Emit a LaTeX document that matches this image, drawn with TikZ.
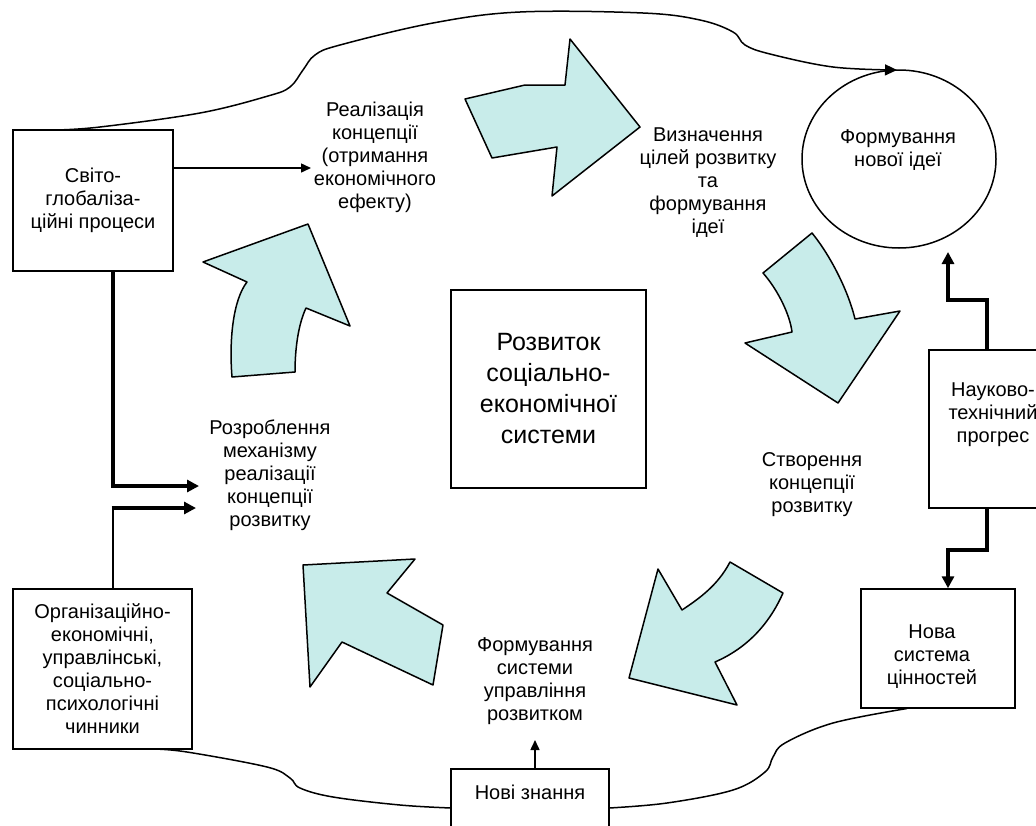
\documentclass[tikz,border=0pt]{standalone}
\usepackage{fontspec}
\setmainfont{Liberation Sans}
\usetikzlibrary{shapes.geometric,arrows.meta}
\definecolor{arrowfill}{RGB}{200,236,234}
\begin{document}
\begin{tikzpicture}[x=1pt,y=-1pt,
  lbl/.style={align=center,font=\fontsize{20}{23}\selectfont,inner sep=0pt},
  box/.style={draw,line width=1.5pt,rectangle,inner sep=0pt},
  conn/.style={line width=1.5pt},
  thickconn/.style={line width=3.5pt},
  tipthin/.style={-{Triangle[length=10pt,width=9pt]}},
  tipthick/.style={-{Triangle[length=12pt,width=12pt]}},
  blockarrow/.style={fill=arrowfill,draw=black,line width=1.5pt,line join=round},
  cloudline/.style={line width=1.5pt}]
\useasboundingbox (0,0) rectangle (1036,825);
\clip (0,0) rectangle (1036,825);

% block arrows
\draw[blockarrow] (465,99) -- (525,85) -- (565,85) -- (570,39) -- (640,127) -- (552,196) -- (557,147) -- (492,158) -- cycle;
\draw[blockarrow] (763,273) -- (812,233) .. controls (830,255) and (848,290) .. (855,319) -- (900,311) -- (838,403) -- (745,343) -- (792,332) .. controls (790,315) and (778,290) .. (763,273) -- cycle;
\draw[blockarrow] (730,562) -- (783,593) .. controls (772,618) and (752,646) .. (715,662) -- (737,705) -- (629,678) -- (658,569) -- (682,610) .. controls (700,598) and (718,585) .. (730,562) -- cycle;
\draw[blockarrow] (303,565) -- (415,559) -- (387,593) -- (443,625) -- (433,685) -- (342,642) -- (310,687) -- cycle;
\draw[blockarrow] (203,262) -- (308,224) -- (350,326) -- (306,308) .. controls (298,325) and (295,350) .. (295,372) -- (232,377) .. controls (229,340) and (233,300) .. (247,282) -- cycle;

% nodes
\node[box,lbl,minimum width=160pt,minimum height=141pt] (svit) at (93,200.5) {Світо-\\глобаліза-\\ційні процеси};
\node[box,lbl,minimum width=179pt,minimum height=160pt] (org) at (102.5,669) {Організаційно-\\економічні,\\управлінські,\\соціально-\\психологічні\\чинники};
\node[box,align=center,font=\fontsize{25}{31}\selectfont,minimum width=195pt,minimum height=198pt] (centre) at (548.5,389) {Розвиток\\соціально-\\економічної\\системи};
\node[draw,ellipse,line width=1.5pt,minimum width=194pt,minimum height=178pt,inner sep=0pt] (idea) at (899,159) {};
\node[lbl] (ideatext) at (898,150) {Формування\\нової ідеї};
\node[box,minimum width=128pt,minimum height=158pt] (nauk) at (993,429) {};
\node[lbl] (nauktext) at (993,415) {Науково-\\технічний\\прогрес};
\node[box,minimum width=154pt,minimum height=119pt] (nova) at (938,648.5) {};
\node[lbl] (novatext) at (932,657) {Нова\\система\\цінностей};
\node[box,minimum width=158pt,minimum height=82pt] (novi) at (530,810) {};
\node[lbl] (novitext) at (530,792) {Нові знання};

\node[lbl] (realiz) at (375,157) {Реалізація\\концепції\\(отримання\\економічного\\ефекту)};
\node[lbl] (vyzn) at (708,183) {Визначення\\цілей розвитку\\та\\формування\\ідеї};
\node[lbl] (stvor) at (812,485) {Створення\\концепції\\розвитку};
\node[lbl] (formsys) at (535,681) {Формування\\системи\\управління\\розвитком};
\node[lbl] (rozrob) at (270,475) {Розроблення\\механізму\\реалізації\\концепції\\розвитку};

% connectors
\coordinate (r1) at (311,168);
\draw[conn,tipthin] (svit.east |- r1) -- (r1);

\coordinate (m1b) at (113,486);
\coordinate (m1) at (199,486);
\draw[thickconn,tipthick] (svit.south -| m1b) -- (m1b) -- (m1);

\coordinate (m2b) at (113,508);
\coordinate (m2s) at (111.5,508);
\coordinate (m2) at (196,508);
\draw[conn] (org.north -| m2b) -- (m2b);
\draw[thickconn,tipthick] (m2s) -- (m2);

\coordinate (u1) at (987,300);
\coordinate (u2) at (948,300);
\coordinate (u3) at (948,252);
\draw[thickconn,tipthick] (nauk.north -| u1) -- (u1) -- (u2) -- (u3);

\coordinate (d1) at (987,550);
\coordinate (d2) at (948,550);
\draw[thickconn,tipthick] (nauk.south -| d1) -- (d1) -- (d2) -- (nova.north -| d2);

\coordinate (f1) at (535,740);
\draw[conn,tipthin] (novi.north -| f1) -- (f1);

% cloud outline
\draw[cloudline,-{Triangle[length=12pt,width=11pt]}] plot[smooth,tension=0.6] coordinates {(55,130) (100,127) (200,113) (268,96) (290,87) (303,70) (315,55) (340,45) (433,23) (520,12) (643,13) (700,20) (733,32) (745,45) (770,54) (833,67) (897,70)};
\draw[cloudline] plot[smooth,tension=0.6] coordinates {(153,749) (187,752) (267,767) (290,778) (300,788) (333,797) (400,805) (451,808)};
\draw[cloudline] plot[smooth,tension=0.6] coordinates {(609,808) (667,803) (733,790) (765,772) (773,757) (785,743) (833,723) (907,708.5)};
\end{tikzpicture}
\end{document}
